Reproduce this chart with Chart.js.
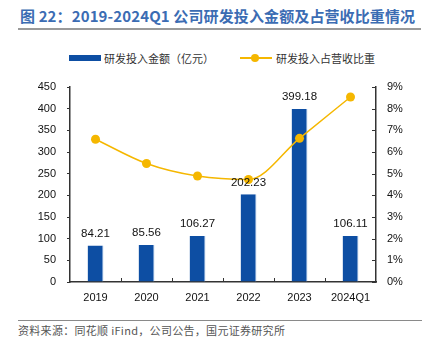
<!DOCTYPE html>
<html>
<head>
<meta charset="utf-8">
<script src="https://cdn.jsdelivr.net/npm/chart.js@4.4.1/dist/chart.umd.min.js"></script>
<style>
  body { margin: 0; width: 425px; height: 352px; background: #fff; position: relative; overflow: hidden; font-family: "Noto Sans CJK SC", sans-serif; }
  #title { position: absolute; left: 20px; top: 5px; font-size: 15px; letter-spacing: 0.12px; font-weight: bold; color: #3b6cb3; white-space: nowrap; }
  #titleLine { position: absolute; left: 18px; top: 28px; width: 403px; height: 2px; background: #9a9a9a; }
  .lg { position: absolute; top: 50px; font-size: 11px; color: #333; white-space: nowrap; }
  #srcLine { position: absolute; left: 18px; top: 320px; width: 404px; height: 1px; background: #8a8a8a; }
  #src { position: absolute; left: 18px; top: 322px; font-size: 11px; letter-spacing: 0.3px; color: #555; white-space: nowrap; }
  canvas { position: absolute; left: 0; top: 0; }
</style>
</head>
<body>
<div id="title">图 22：2019-2024Q1 公司研发投入金额及占营收比重情况</div>
<div id="titleLine"></div>
<div style="position:absolute;left:69px;top:55px;width:32px;height:6px;background:#0d4ea3"></div>
<div class="lg" style="left:104px">研发投入金额（亿元）</div>
<div style="position:absolute;left:240px;top:57px;width:32px;height:2px;background:#f5b700"></div>
<div style="position:absolute;left:251px;top:54px;width:8px;height:8px;border-radius:50%;background:#f5b700"></div>
<div class="lg" style="left:276px">研发投入占营收比重</div>
<div id="srcLine"></div>
<div id="src">资料来源：同花顺 iFind，公司公告，国元证券研究所</div>
<canvas id="c" width="425" height="352"></canvas>
<script>
const categories = ['2019', '2020', '2021', '2022', '2023', '2024Q1'];
const rdSpend = [84.21, 85.56, 106.27, 202.23, 399.18, 106.11];
const rdRatio = [6.59, 5.47, 4.89, 4.73, 6.63, 8.54];
const leftTicks = [0, 50, 100, 150, 200, 250, 300, 350, 400, 450];
const rightTicks = [0, 1, 2, 3, 4, 5, 6, 7, 8, 9];

const axisColor = '#333';
const tickFont = { family: '"Liberation Sans", Arial', size: 11 };

const valueLabels = {
  id: 'valueLabels',
  afterDatasetsDraw(chart) {
    const ctx = chart.ctx;
    const meta = chart.getDatasetMeta(1);
    ctx.save();
    ctx.font = '11.5px "Liberation Sans", Arial, sans-serif';
    ctx.fillStyle = '#111';
    ctx.textAlign = 'center';
    ctx.textBaseline = 'middle';
    meta.data.forEach((bar, i) => {
      ctx.fillText(rdSpend[i].toFixed(2), bar.x, bar.y - 12);
    });
    ctx.restore();
  }
};

const innerTicks = {
  id: 'innerTicks',
  afterDraw(chart) {
    const ctx = chart.ctx;
    const area = chart.chartArea;
    const x = chart.scales.x;
    const y1 = chart.scales.y1;
    ctx.save();
    ctx.strokeStyle = axisColor;
    ctx.lineWidth = 1;
    ctx.beginPath();
    for (let i = 1; i < categories.length; i++) {
      const px = Math.round((x.getPixelForTick(i - 1) + x.getPixelForTick(i)) / 2) + 0.5;
      ctx.moveTo(px, area.bottom);
      ctx.lineTo(px, area.bottom - 4);
    }
    rightTicks.forEach(t => {
      const py = Math.round(y1.getPixelForValue(t)) + 0.5;
      ctx.moveTo(area.right, py);
      ctx.lineTo(area.right - 4, py);
    });
    ctx.stroke();
    ctx.restore();
  }
};

new Chart(document.getElementById('c'), {
  data: {
    labels: categories,
    datasets: [
      {
        type: 'line',
        label: '研发投入占营收比重',
        data: rdRatio,
        yAxisID: 'y1',
        borderColor: '#f5b700',
        backgroundColor: '#f5b700',
        borderWidth: 1.5,
        pointRadius: 4.5,
        pointBorderWidth: 0,
        cubicInterpolationMode: 'monotone',
        order: 0
      },
      {
        type: 'bar',
        label: '研发投入金额（亿元）',
        data: rdSpend,
        yAxisID: 'y',
        backgroundColor: '#0d4ea3',
        borderColor: '#8fb2de',
        borderWidth: { right: 1 },
        barPercentage: 0.62,
        categoryPercentage: 0.5,
        order: 1
      }
    ]
  },
  options: {
    responsive: false,
    animation: false,
    devicePixelRatio: 1,
    layout: { padding: { top: 87, bottom: 40, left: 0, right: 0 } },
    plugins: { legend: { display: false }, tooltip: { enabled: false } },
    scales: {
      x: {
        offset: true,
        grid: { display: false, drawTicks: false },
        border: { display: true, color: axisColor, width: 1.5 },
        ticks: { color: '#111', font: tickFont, padding: 9 },
        afterFit(s) { s.height = 30; }
      },
      y: {
        position: 'left',
        min: 0, max: 450,
        afterBuildTicks(s) { s.ticks = leftTicks.map(v => ({ value: v })); },
        grid: { drawOnChartArea: false, tickLength: 3, color: axisColor },
        border: { display: true, color: axisColor, width: 1.5 },
        ticks: { color: '#111', font: tickFont, padding: 11 },
        afterFit(s) { s.width = 70; }
      },
      y1: {
        position: 'right',
        min: 0, max: 9,
        afterBuildTicks(s) { s.ticks = rightTicks.map(v => ({ value: v })); },
        grid: { display: false, drawTicks: false },
        border: { display: true, color: axisColor, width: 1.5 },
        ticks: { color: '#111', font: tickFont, padding: 11, callback: v => v + '%' },
        afterFit(s) { s.width = 49; }
      }
    }
  },
  plugins: [valueLabels, innerTicks]
});
</script>
</body>
</html>
